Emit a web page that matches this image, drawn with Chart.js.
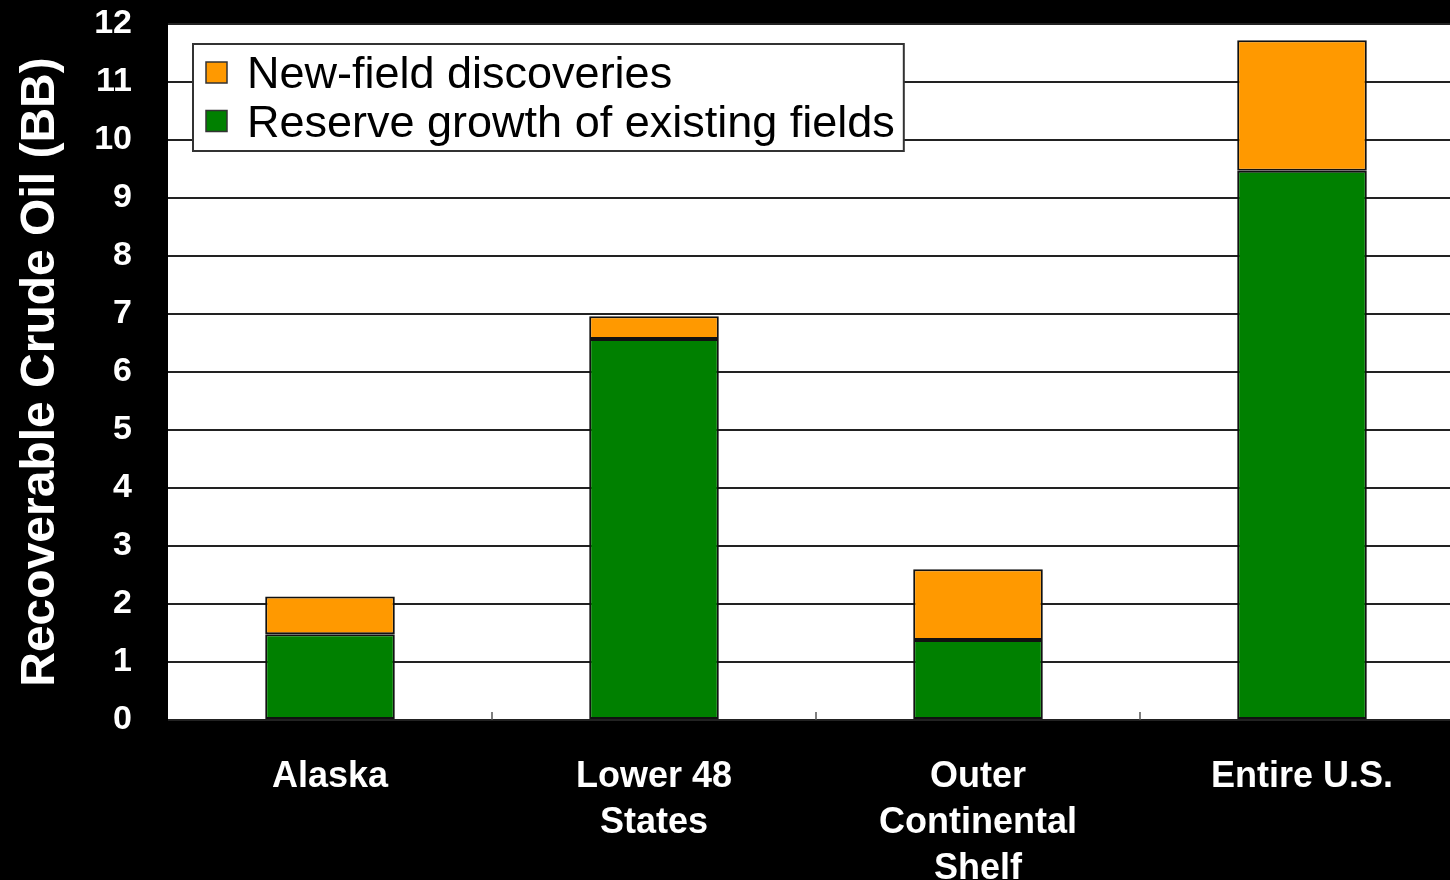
<!DOCTYPE html>
<html>
<head>
<meta charset="utf-8">
<title>Recoverable Crude Oil</title>
<script src="https://cdn.jsdelivr.net/npm/chart.js@4"></script>
<style>
  html, body { margin: 0; padding: 0; background: #000; overflow: hidden; }
  canvas { display: block; }
</style>
</head>
<body>
<canvas id="chart" width="1464" height="880"></canvas>
<script>
// Regions along the x axis (multi-line labels)
const categories = [
  ['Alaska'],
  ['Lower 48', 'States'],
  ['Outer', 'Continental', 'Shelf'],
  ['Entire U.S.']
];

// Billions of barrels
const reserveGrowth = [1.48, 6.57, 1.38, 9.47];
const newFieldDiscoveries = [0.65, 0.39, 1.22, 2.25];

const seriesLabels = ['Reserve growth of existing fields', 'New-field discoveries'];
const seriesColors = ['#008000', '#ff9900'];

const yMin = 0;
const yMax = 12;
const yStep = 1;
const yTitle = 'Recoverable Crude Oil (BB)';

const FONT = '"Liberation Sans", Arial, Helvetica, sans-serif';

// White plotting surface behind the grid
const plotBackground = {
  id: 'plotBackground',
  beforeDraw(chart) {
    const { ctx, chartArea: a } = chart;
    ctx.save();
    ctx.fillStyle = '#ffffff';
    ctx.fillRect(a.left, a.top, a.right - a.left, a.bottom - a.top);
    ctx.restore();
  }
};

// Short upward marks at the category boundaries on the x axis
const categoryMarks = {
  id: 'categoryMarks',
  beforeDatasetsDraw(chart) {
    const { ctx, chartArea: a, scales: { x } } = chart;
    ctx.save();
    ctx.strokeStyle = '#555';
    ctx.lineWidth = 1.5;
    for (let i = 1; i < categories.length; i++) {
      const px = (x.getPixelForValue(i - 1) + x.getPixelForValue(i)) / 2;
      ctx.beginPath();
      ctx.moveTo(px, a.bottom);
      ctx.lineTo(px, a.bottom - 8);
      ctx.stroke();
    }
    ctx.restore();
  }
};

// Boxed legend inside the upper-left of the plot
const insetLegend = {
  id: 'insetLegend',
  afterDatasetsDraw(chart) {
    const { ctx, chartArea: a } = chart;
    const items = chart.data.datasets.slice().reverse();
    const boxLeft = a.left + 25;
    const boxTop = a.top + 20;
    const sw = 21;
    const swatchX = boxLeft + 13;
    const textX = swatchX + sw + 20;
    const rowGap = 48.5;
    const firstSwatchTop = boxTop + 18;
    const firstBaseline = boxTop + 44;
    ctx.save();
    ctx.font = '45px ' + FONT;
    let maxW = 0;
    items.forEach(d => { maxW = Math.max(maxW, ctx.measureText(d.label).width); });
    const boxW = textX + maxW + 9 - boxLeft;
    const boxH = 107;
    ctx.fillStyle = '#ffffff';
    ctx.fillRect(boxLeft, boxTop, boxW, boxH);
    ctx.strokeStyle = '#333';
    ctx.lineWidth = 2;
    ctx.strokeRect(boxLeft, boxTop, boxW, boxH);
    items.forEach((d, i) => {
      const sy = firstSwatchTop + i * rowGap;
      ctx.fillStyle = d.backgroundColor;
      ctx.fillRect(swatchX, sy, sw, sw);
      ctx.strokeStyle = '#333';
      ctx.lineWidth = 1.5;
      ctx.strokeRect(swatchX, sy, sw, sw);
      ctx.fillStyle = '#000';
      ctx.textBaseline = 'alphabetic';
      ctx.textAlign = 'left';
      ctx.fillText(d.label, textX, firstBaseline + i * rowGap);
    });
    ctx.restore();
  }
};

new Chart(document.getElementById('chart'), {
  type: 'bar',
  data: {
    labels: categories,
    datasets: [
      {
        label: seriesLabels[0],
        data: reserveGrowth,
        backgroundColor: seriesColors[0],
        borderColor: '#111',
        borderWidth: 2,
        borderSkipped: false,
        barPercentage: 0.4,
        categoryPercentage: 1
      },
      {
        label: seriesLabels[1],
        data: newFieldDiscoveries,
        backgroundColor: seriesColors[1],
        borderColor: '#111',
        borderWidth: 2,
        borderSkipped: false,
        barPercentage: 0.4,
        categoryPercentage: 1
      }
    ]
  },
  options: {
    responsive: false,
    animation: false,
    devicePixelRatio: 1,
    layout: { padding: { top: 24, right: 0, bottom: 0, left: 0 } },
    plugins: {
      legend: { display: false },
      tooltip: { enabled: false }
    },
    scales: {
      x: {
        stacked: true,
        grid: { display: false },
        border: { display: false },
        ticks: {
          color: '#ffffff',
          padding: 26,
          maxRotation: 0,
          autoSkip: false,
          font: { family: FONT, size: 36, weight: 'bold', lineHeight: 1.28 }
        },
        afterFit(scale) {
          scale.height = 160;
          scale.paddingLeft = 0;
          scale.paddingRight = 0;
        }
      },
      y: {
        stacked: true,
        min: yMin,
        max: yMax,
        grid: { color: '#222', lineWidth: 2, drawTicks: false },
        border: { display: false },
        ticks: {
          stepSize: yStep,
          color: '#ffffff',
          padding: 36,
          font: { family: FONT, size: 34, weight: 'bold' }
        },
        title: {
          display: true,
          text: yTitle,
          color: '#ffffff',
          padding: { top: 12, bottom: 0 },
          font: { family: FONT, size: 48, weight: 'bold', lineHeight: 1.2 }
        },
        afterFit(scale) {
          scale.width = 168;
          scale.paddingTop = 0;
          scale.paddingBottom = 0;
        }
      }
    }
  },
  plugins: [plotBackground, categoryMarks, insetLegend]
});
</script>
</body>
</html>
